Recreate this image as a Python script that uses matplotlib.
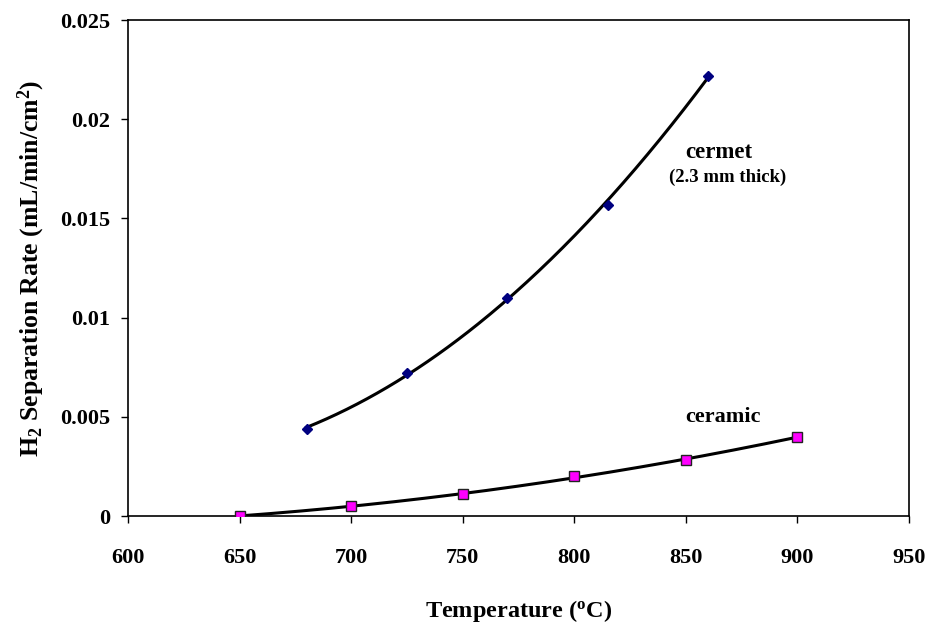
import numpy as np
import matplotlib
matplotlib.use("Agg")
import matplotlib.pyplot as plt

plt.rcParams['font.family'] = ['Liberation Serif', 'DejaVu Serif']
plt.rcParams['font.weight'] = 'bold'
plt.rcParams['mathtext.default'] = 'regular'

cermet_T = [680, 725, 770, 815, 860]
cermet_rate = [0.0044, 0.0072, 0.0110, 0.0157, 0.0222]
ceramic_T = [650, 700, 750, 800, 850, 900]
ceramic_rate = [0.0000, 0.0005, 0.0011, 0.0020, 0.0028, 0.0040]

x_ticks = [600, 650, 700, 750, 800, 850, 900, 950]
y_ticks = [0, 0.005, 0.01, 0.015, 0.02, 0.025]
y_tick_labels = ['0', '0.005', '0.01', '0.015', '0.02', '0.025']

fig = plt.figure(figsize=(9.29, 6.28), dpi=100)
ax = fig.add_axes([128/929, 1-516/628, (909-128)/929, (516-20)/628])

# polynomial trendlines (order 2)
for T, r in [(cermet_T, cermet_rate), (ceramic_T, ceramic_rate)]:
    c = np.polyfit(T, r, 2)
    xs = np.linspace(min(T), max(T), 200)
    ax.plot(xs, np.polyval(c, xs), color='black', lw=2.2, zorder=2)

ax.plot(cermet_T, cermet_rate, linestyle='none', marker='D', markersize=5.5,
        color='#000080', markeredgecolor='#000080', zorder=3)
ax.plot(ceramic_T, ceramic_rate, linestyle='none', marker='s', markersize=6.5,
        color='#FF00FF', markeredgecolor='#222222', markeredgewidth=1.0, zorder=3)

ax.set_xlim(600, 950)
ax.set_ylim(0, 0.025)
ax.set_xticks(x_ticks)
ax.set_yticks(y_ticks)
ax.set_yticklabels(y_tick_labels)
ax.tick_params(direction='out', length=5, width=1, labelsize=16, pad=8)
ax.tick_params(axis='x', pad=18)
for s in ax.spines.values():
    s.set_linewidth(1.2)
for lab in ax.get_xticklabels() + ax.get_yticklabels():
    lab.set_fontweight('bold')

ax.set_xlabel('Temperature ($^{o}$C)', fontsize=17.5, fontweight='bold', labelpad=22)
ax.set_ylabel('H$_2$ Separation Rate (mL/min/cm$^{2}$)', fontsize=18.5, fontweight='bold', labelpad=9)

ax.text(0.757, 0.0178, 'cermet', fontsize=16.5, fontweight='bold', ha='center', va='bottom',
        transform=ax.get_yaxis_transform())
ax.text(0.7675, 0.0175, '(2.3 mm thick)', fontsize=13.5, fontweight='bold', ha='center', va='top',
        transform=ax.get_yaxis_transform())
ax.text(0.762, 0.0050, 'ceramic', fontsize=16, fontweight='bold', ha='center', va='center',
        transform=ax.get_yaxis_transform())

fig.savefig('out.png', dpi=100)
